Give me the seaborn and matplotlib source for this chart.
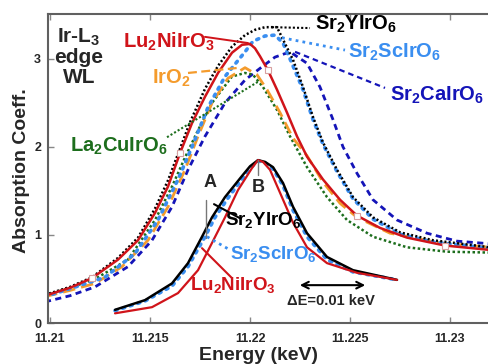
import numpy as np
import pandas as pd
import matplotlib
matplotlib.use("Agg")
import matplotlib.pyplot as plt
import seaborn as sns

# ---------------- data (energy in keV, absorption coefficient) ----------------
lu_e = [11.20975, 11.2110, 11.2121, 11.2134, 11.2144, 11.21525, 11.2159, 11.2165, 11.2171, 11.21775,
        11.2184, 11.2191, 11.2196, 11.2200, 11.22025, 11.2205, 11.2209, 11.22135, 11.22185, 11.22235,
        11.22285, 11.22365, 11.2245, 11.22535, 11.2265, 11.22785, 11.22975, 11.2320]
lu_y = [0.31, 0.40, 0.51, 0.72, 0.94, 1.25, 1.55, 1.93, 2.27, 2.57,
        2.84, 3.07, 3.16, 3.17, 3.12, 3.03, 2.87, 2.65, 2.39, 2.12,
        1.89, 1.63, 1.40, 1.22, 1.08, 0.97, 0.88, 0.83]

sry_e = [11.20975, 11.2110, 11.2121, 11.2134, 11.2144, 11.21525, 11.2159, 11.2165, 11.2170, 11.21775,
         11.2184, 11.2191, 11.21975, 11.22025, 11.22075, 11.22135, 11.22165, 11.22215, 11.22265, 11.22315,
         11.22365, 11.22435, 11.22515, 11.22615, 11.2275, 11.22915, 11.2320]
sry_y = [0.32, 0.41, 0.52, 0.74, 0.97, 1.30, 1.62, 1.98, 2.28, 2.66,
         2.92, 3.14, 3.27, 3.33, 3.36, 3.36, 3.22, 2.99, 2.68, 2.34,
         2.05, 1.74, 1.43, 1.20, 1.03, 0.94, 0.86]

srs_e = [11.20975, 11.2110, 11.21275, 11.21425, 11.2154, 11.2164, 11.2171, 11.2179, 11.21875, 11.21975,
         11.22015, 11.22075, 11.22125, 11.22165, 11.2220, 11.22265, 11.22315, 11.22365, 11.22435, 11.22515,
         11.22615, 11.2275, 11.22915, 11.2320]
srs_y = [0.30, 0.39, 0.52, 0.79, 1.17, 1.63, 2.00, 2.45, 2.80, 3.08,
         3.20, 3.26, 3.27, 3.18, 3.00, 2.65, 2.31, 2.03, 1.72, 1.41,
         1.18, 1.01, 0.92, 0.85]

src_e = [11.20975, 11.2110, 11.21225, 11.2139, 11.2151, 11.2161, 11.2169, 11.21775, 11.21875, 11.21975,
         11.2206, 11.22125, 11.2220, 11.22285, 11.2235, 11.22415, 11.22465, 11.22535, 11.22615, 11.22735,
         11.22885, 11.23035, 11.2320]
src_y = [0.24, 0.31, 0.41, 0.64, 0.94, 1.32, 1.74, 2.12, 2.50, 2.76,
         2.91, 3.02, 3.08, 2.95, 2.68, 2.31, 2.00, 1.70, 1.40, 1.17,
         1.02, 0.93, 0.90]

iro_e = [11.20975, 11.2110, 11.21225, 11.2136, 11.2149, 11.2159, 11.21675, 11.2174, 11.2181, 11.2189,
         11.21975, 11.22035, 11.22085, 11.2215, 11.22215, 11.22285, 11.22365, 11.2245, 11.22535, 11.2270,
         11.2295, 11.2320]
iro_y = [0.30, 0.37, 0.45, 0.64, 0.94, 1.32, 1.74, 2.12, 2.50, 2.78,
         2.90, 2.82, 2.65, 2.39, 2.10, 1.90, 1.60, 1.36, 1.20, 1.02,
         0.91, 0.86]

lac_e = [11.20975, 11.2110, 11.21225, 11.2139, 11.21525, 11.2161, 11.21675, 11.2174, 11.2181, 11.2191,
         11.21975, 11.22015, 11.22065, 11.22135, 11.2220, 11.22285, 11.22385, 11.22485, 11.22615, 11.22785,
         11.22985, 11.2320]
lac_y = [0.31, 0.40, 0.50, 0.72, 1.17, 1.55, 1.88, 2.19, 2.50, 2.80,
         2.84, 2.82, 2.68, 2.42, 2.12, 1.77, 1.43, 1.17, 0.98, 0.86,
         0.81, 0.80]

# lower (shifted) comparison spectra
low_sry_e = [11.21325, 11.21475, 11.2161, 11.2169, 11.2176, 11.2181, 11.21875, 11.2196, 11.2200, 11.2204,
             11.22075, 11.22115, 11.22165, 11.22215, 11.22285, 11.22385, 11.22515, 11.22735]
low_sry_y = [0.15, 0.26, 0.45, 0.68, 0.98, 1.20, 1.43, 1.67, 1.78, 1.85,
             1.83, 1.77, 1.59, 1.32, 1.02, 0.75, 0.60, 0.49]
low_srs_e = [11.21325, 11.21475, 11.2161, 11.2169, 11.21775, 11.21825, 11.2189, 11.21965, 11.2200, 11.2204,
             11.22075, 11.22115, 11.22165, 11.22215, 11.22285, 11.22385, 11.22515, 11.22735]
low_srs_y = [0.14, 0.25, 0.42, 0.64, 0.98, 1.20, 1.42, 1.65, 1.76, 1.84,
             1.82, 1.75, 1.56, 1.28, 0.98, 0.72, 0.58, 0.49]
low_lu_e = [11.21325, 11.2151, 11.2164, 11.2174, 11.2181, 11.21875, 11.2194, 11.2201, 11.2204, 11.22065,
            11.2210, 11.2215, 11.22215, 11.22285, 11.22385, 11.22535, 11.22735]
low_lu_y = [0.11, 0.18, 0.34, 0.60, 0.91, 1.20, 1.51, 1.76, 1.85, 1.83,
            1.74, 1.48, 1.14, 0.86, 0.68, 0.57, 0.49]

x_ticks = [11.21, 11.215, 11.22, 11.225, 11.23]
x_tick_labels = ["11.21", "11.215", "11.22", "11.225", "11.23"]
y_ticks = [0, 1, 2, 3]

# ---------------- style ----------------
sns.set_theme(style="white")
plt.rcParams["font.family"] = ["Liberation Sans", "DejaVu Sans"]
plt.rcParams["mathtext.fontset"] = "custom"
plt.rcParams["mathtext.rm"] = "Liberation Sans:bold"
plt.rcParams["mathtext.bf"] = "Liberation Sans:bold"
plt.rcParams["mathtext.default"] = "bf"

RED = "#d0141a"
ORANGE = "#f49b2c"
GREEN = "#1d6e1d"
LBLUE = "#3a8ef0"
DBLUE = "#1414b8"
BLACK = "#000000"

fig = plt.figure(figsize=(4.88, 3.64), dpi=100)
ax = fig.add_axes([0.0984, 0.1126, 0.9016, 0.849])

def line(x, y, **kw):
    df = pd.DataFrame({"E": x, "A": y})
    sns.lineplot(data=df, x="E", y="A", sort=False, estimator=None, ax=ax, **kw)

line(src_e, src_y, color=DBLUE, lw=2.0, linestyle=(0, (2.2, 1.6)))
line(lac_e, lac_y, color=GREEN, lw=1.8, linestyle=(0, (1, 1)))
line(iro_e, iro_y, color=ORANGE, lw=2.0, linestyle=(0, (4.5, 2.2)))
line(srs_e, srs_y, color=LBLUE, lw=2.6, linestyle=(0, (0.6, 1.6)), dash_capstyle="round")
line(sry_e, sry_y, color=BLACK, lw=1.8, linestyle=(0, (0.8, 0.9)))
line(lu_e, lu_y, color=RED, lw=1.8, marker="s", markersize=4, markerfacecolor="white",
     markeredgecolor="#d8a0a0", markeredgewidth=0.8, markevery=[2, 7, 16, 23, 26])

line(low_srs_e, low_srs_y, color=LBLUE, lw=2.6, linestyle=(0, (0.6, 1.6)), dash_capstyle="round")
line(low_sry_e, low_sry_y, color=BLACK, lw=1.8)
line(low_lu_e, low_lu_y, color=RED, lw=1.6)

# ---------------- axes ----------------
ax.set_xlim(11.2099, 11.2319)
ax.set_ylim(0, 3.51)
ax.set_xticks(x_ticks)
ax.set_xticklabels(x_tick_labels, fontsize=9, fontweight="bold")
ax.set_yticks(y_ticks)
ax.set_yticklabels([str(v) for v in y_ticks], fontsize=9, fontweight="bold")
ax.tick_params(direction="in", length=4, width=1, color="#888888", top=True, bottom=True,
               left=True, right=False)
ax.tick_params(axis="x", pad=7)
ax.tick_params(axis="y", pad=5)
for s in ["left", "bottom", "top"]:
    ax.spines[s].set_color("#606060")
    ax.spines[s].set_linewidth(1.5)
ax.spines["right"].set_visible(False)
ax.set_xlabel("")
ax.set_ylabel("")
fig.text(0.53, 0.0, "Energy (keV)", fontsize=14, fontweight="bold", ha="center", va="bottom")
fig.text(0.045, 0.53, "Absorption Coeff.", fontsize=14, fontweight="bold", ha="center",
         va="center", rotation=90)

# ---------------- annotations ----------------
ax.text(11.21145, 3.37, "Ir-L$_3$\nedge\nWL", fontsize=15, fontweight="bold", ha="center",
        va="top", linespacing=1.05)

def lab(x, y, s, c, size=14.5):
    ax.text(x, y, s, color=c, fontsize=size, fontweight="bold", ha="left", va="center")

def lead(x0, y0, x1, y1, c, ls="-", lw=1.4):
    ax.plot([x0, x1], [y0, y1], color=c, lw=lw, linestyle=ls)

lab(11.21365, 3.19, "Lu$_2$NiIrO$_3$", RED)
lead(11.21775, 3.25, 11.2199, 3.18, RED)
lab(11.2151, 2.78, "IrO$_2$", ORANGE)
lead(11.2169, 2.84, 11.2195, 2.90, ORANGE, ls=(0, (4, 2)), lw=1.6)
lab(11.2110, 2.01, "La$_2$CuIrO$_6$", GREEN)
lead(11.21585, 2.11, 11.2204, 2.74, GREEN, ls=(0, (1, 1)), lw=1.5)
lab(11.22325, 3.39, "Sr$_2$YIrO$_6$", BLACK)
lead(11.2211, 3.36, 11.2230, 3.35, BLACK, ls=(0, (1, 1)), lw=1.5)
lab(11.2249, 3.07, "Sr$_2$ScIrO$_6$", LBLUE)
lead(11.2216, 3.24, 11.22475, 3.10, LBLUE, ls=(0, (1, 1.5)), lw=2)
lab(11.2270, 2.59, "Sr$_2$CaIrO$_6$", DBLUE)
lead(11.22225, 3.08, 11.22675, 2.67, DBLUE, ls=(0, (2.5, 1.8)), lw=1.6)

# lower spectra labels
ax.text(11.2180, 1.60, "A", fontsize=13, fontweight="bold", ha="center", va="center")
lead(11.2178, 1.40, 11.2178, 0.97, "#777777", lw=1)
ax.text(11.2204, 1.54, "B", fontsize=13, fontweight="bold", ha="center", va="center")
lead(11.2204, 1.85, 11.2204, 1.68, "#777777", lw=1)
lab(11.21875, 1.17, "Sr$_2$YIrO$_6$", BLACK, size=13.5)
lead(11.2182, 1.35, 11.2195, 1.19, BLACK, lw=1.5)
lab(11.2190, 0.78, "Sr$_2$ScIrO$_6$", LBLUE, size=13.5)
lead(11.21785, 0.98, 11.2190, 0.83, LBLUE, ls=(0, (1, 1.5)), lw=2)
lab(11.2170, 0.43, "Lu$_2$NiIrO$_3$", RED, size=13.5)
lead(11.2176, 0.85, 11.2191, 0.51, RED, lw=1.5)

ax.annotate("", xy=(11.22235, 0.43), xytext=(11.2259, 0.43),
            arrowprops=dict(arrowstyle="<->", color=BLACK, lw=1.5))
ax.text(11.22405, 0.25, "ΔE=0.01 keV", fontsize=10.5, fontweight="bold", ha="center", va="center")

fig.savefig("out.png", dpi=100)
